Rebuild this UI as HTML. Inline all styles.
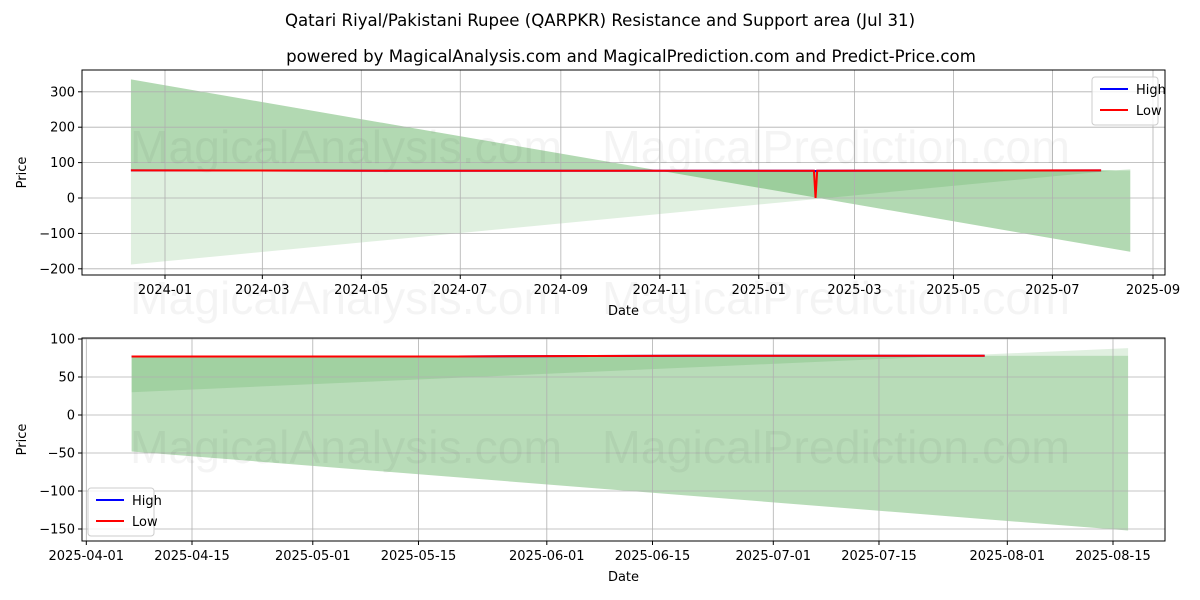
<!DOCTYPE html>
<html><head><meta charset="utf-8"><style>body{margin:0;background:#fff}svg{display:block;font-family:"DejaVu Sans","Liberation Sans",sans-serif}</style></head>
<body>
<svg id="c" width="1200" height="600"></svg>
<script>
// top chart data
const topDates=["2023-12-11","2024-05-16","2024-10-31","2025-02-04","2025-02-05","2025-02-06","2025-07-31"];
const topHigh=[78,77,77,77,76,77,78];
const topLow=[78,77,77,77,0,77,78];
const topBandStart="2023-12-11", topBandEnd="2025-08-18";
const topUpper=[335,-152];
const topLower=[-188,82];
const topMid=[78,78];
const topYTicks=[300,200,100,0,-100,-200];
const topXTicks=["2024-01","2024-03","2024-05","2024-07","2024-09","2024-11","2025-01","2025-03","2025-05","2025-07","2025-09"];
// bottom chart data
const botDates=["2025-04-07","2025-05-20","2025-06-20","2025-07-29"];
const botHigh=[77,77,78,78];
const botLow=[77,77,78,78];
const botBandStart="2025-04-07", botBandEnd="2025-08-17";
const botUpper=[78,78];
const botLower=[-48,-152];
const botLine2=[30,88];
const botYTicks=[100,50,0,-50,-100,-150];
const botXTicks=["2025-04-01","2025-04-15","2025-05-01","2025-05-15","2025-06-01","2025-06-15","2025-07-01","2025-07-15","2025-08-01","2025-08-15"];

const svg=document.getElementById('c');
const NS="http://www.w3.org/2000/svg";
function el(t,a,p){const e=document.createElementNS(NS,t);for(const k in a)e.setAttribute(k,a[k]);(p||svg).appendChild(e);return e;}
const day=s=>{const p=s.split('-');return Date.UTC(+p[0],+p[1]-1,+(p[2]||1))/864e5;};

function panel(o){
  const g=el('g',{});
  
  
  const X=d=>o.x0+(day(d)-day(o.d0))*o.pxd;
  const Y=v=>o.y0-v*o.pxv;
  o.fills.forEach(f=>{
    const xa=X(o.bs),xb=X(o.be);
    const p=el('polygon',{points:`${xa},${Y(f.a[0])} ${xb},${Y(f.a[1])} ${xb},${Y(f.b[1])} ${xa},${Y(f.b[0])}`,fill:'rgb(0,128,0)','fill-opacity':f.op},g);
    
    
  });
  o.yt.forEach(v=>{el('line',{x1:o.L,x2:o.R,y1:Y(v),y2:Y(v),stroke:'#b0b0b0','stroke-width':0.8},g);
    el('line',{x1:o.L-4,x2:o.L,y1:Y(v),y2:Y(v),stroke:'#000'},g);
    const t=el('text',{x:o.L-7,y:Y(v)+4.5,'text-anchor':'end','font-size':13},g);t.textContent=String(v).replace('-','\u2212');
    });
  o.xt.forEach(d=>{const x=X(d);el('line',{x1:x,x2:x,y1:o.T,y2:o.B,stroke:'#b0b0b0','stroke-width':0.8},g);
    el('line',{x1:x,x2:x,y1:o.B,y2:o.B+4,stroke:'#000'},g);
    const t=el('text',{x:x,y:o.B+19,'text-anchor':'middle','font-size':13},g);t.textContent=d;
    });
  o.wm.forEach(w=>{const t=el('text',{x:w[0],y:w[1],'font-size':46,fill:'#000','fill-opacity':0.045,textLength:w[3],lengthAdjust:'spacingAndGlyphs','font-family':'Liberation Sans, sans-serif'},g);t.textContent=w[2];
    });
  const ln=(vals,c,n)=>{const p=el('polyline',{points:o.dates.map((d,i)=>X(d)+','+Y(vals[i])).join(' '),fill:'none',stroke:c,'stroke-width':2},g);
    };
  ln(o.high,'#0000ff','high-line');ln(o.low,'#ff0000','low-line');
  el('rect',{x:o.L,y:o.T,width:o.R-o.L,height:o.B-o.T,fill:'none',stroke:'#000','stroke-width':1},g);
  let t=el('text',{x:(o.L+o.R)/2,y:o.B+40,'text-anchor':'middle','font-size':13},g);t.textContent='Date';
  
  t=el('text',{x:0,y:0,'text-anchor':'middle','font-size':13,transform:`translate(26,${(o.T+o.B)/2}) rotate(-90)`},g);t.textContent='Price';
  
  const lg=el('g',{},g);
  el('rect',{x:o.lg[0],y:o.lg[1],width:66,height:48,rx:3,fill:'#fff','fill-opacity':0.8,stroke:'#ccc'},lg);
  [['High','#0000ff'],['Low','#ff0000']].forEach((e,i)=>{const y=o.lg[1]+12+i*21;
    el('line',{x1:o.lg[0]+8,x2:o.lg[0]+36,y1:y,y2:y,stroke:e[1],'stroke-width':2},lg);
    const tt=el('text',{x:o.lg[0]+44,y:y+5,'font-size':13},lg);tt.textContent=e[0];
    });
}
panel({name:'top-chart',L:82,R:1165,T:70,B:275,x0:165,d0:'2024-01-01',pxd:988/609,y0:198,pxv:0.354,
  bs:topBandStart,be:topBandEnd,fills:[{a:topUpper,b:topMid,op:0.3},{a:topMid,b:topLower,op:0.12}],
  yt:topYTicks,xt:topXTicks,dates:topDates,high:topHigh,low:topLow,lg:[1092,77],
  wm:[[130,163,'MagicalAnalysis.com',432],[602,163,'MagicalPrediction.com',468],[130,314,'MagicalAnalysis.com',432],[602,314,'MagicalPrediction.com',468]]});
panel({name:'bottom-chart',L:82,R:1165,T:338,B:541,x0:192,d0:'2025-04-15',pxd:921/122,y0:415,pxv:0.76,
  bs:botBandStart,be:botBandEnd,fills:[{a:botUpper,b:botLower,op:0.28},{a:botLine2,b:botUpper,op:0.12}],
  yt:botYTicks,xt:botXTicks,dates:botDates,high:botHigh,low:botLow,lg:[88,488],
  wm:[[130,463,'MagicalAnalysis.com',432],[602,463,'MagicalPrediction.com',468]]});
let t=el('text',{x:600,y:26,'text-anchor':'middle','font-size':16.6});t.textContent='Qatari Riyal/Pakistani Rupee (QARPKR) Resistance and Support area (Jul 31)';

t=el('text',{x:631,y:62,'text-anchor':'middle','font-size':16.6});t.textContent='powered by MagicalAnalysis.com and MagicalPrediction.com and Predict-Price.com';

</script>
</body></html>
